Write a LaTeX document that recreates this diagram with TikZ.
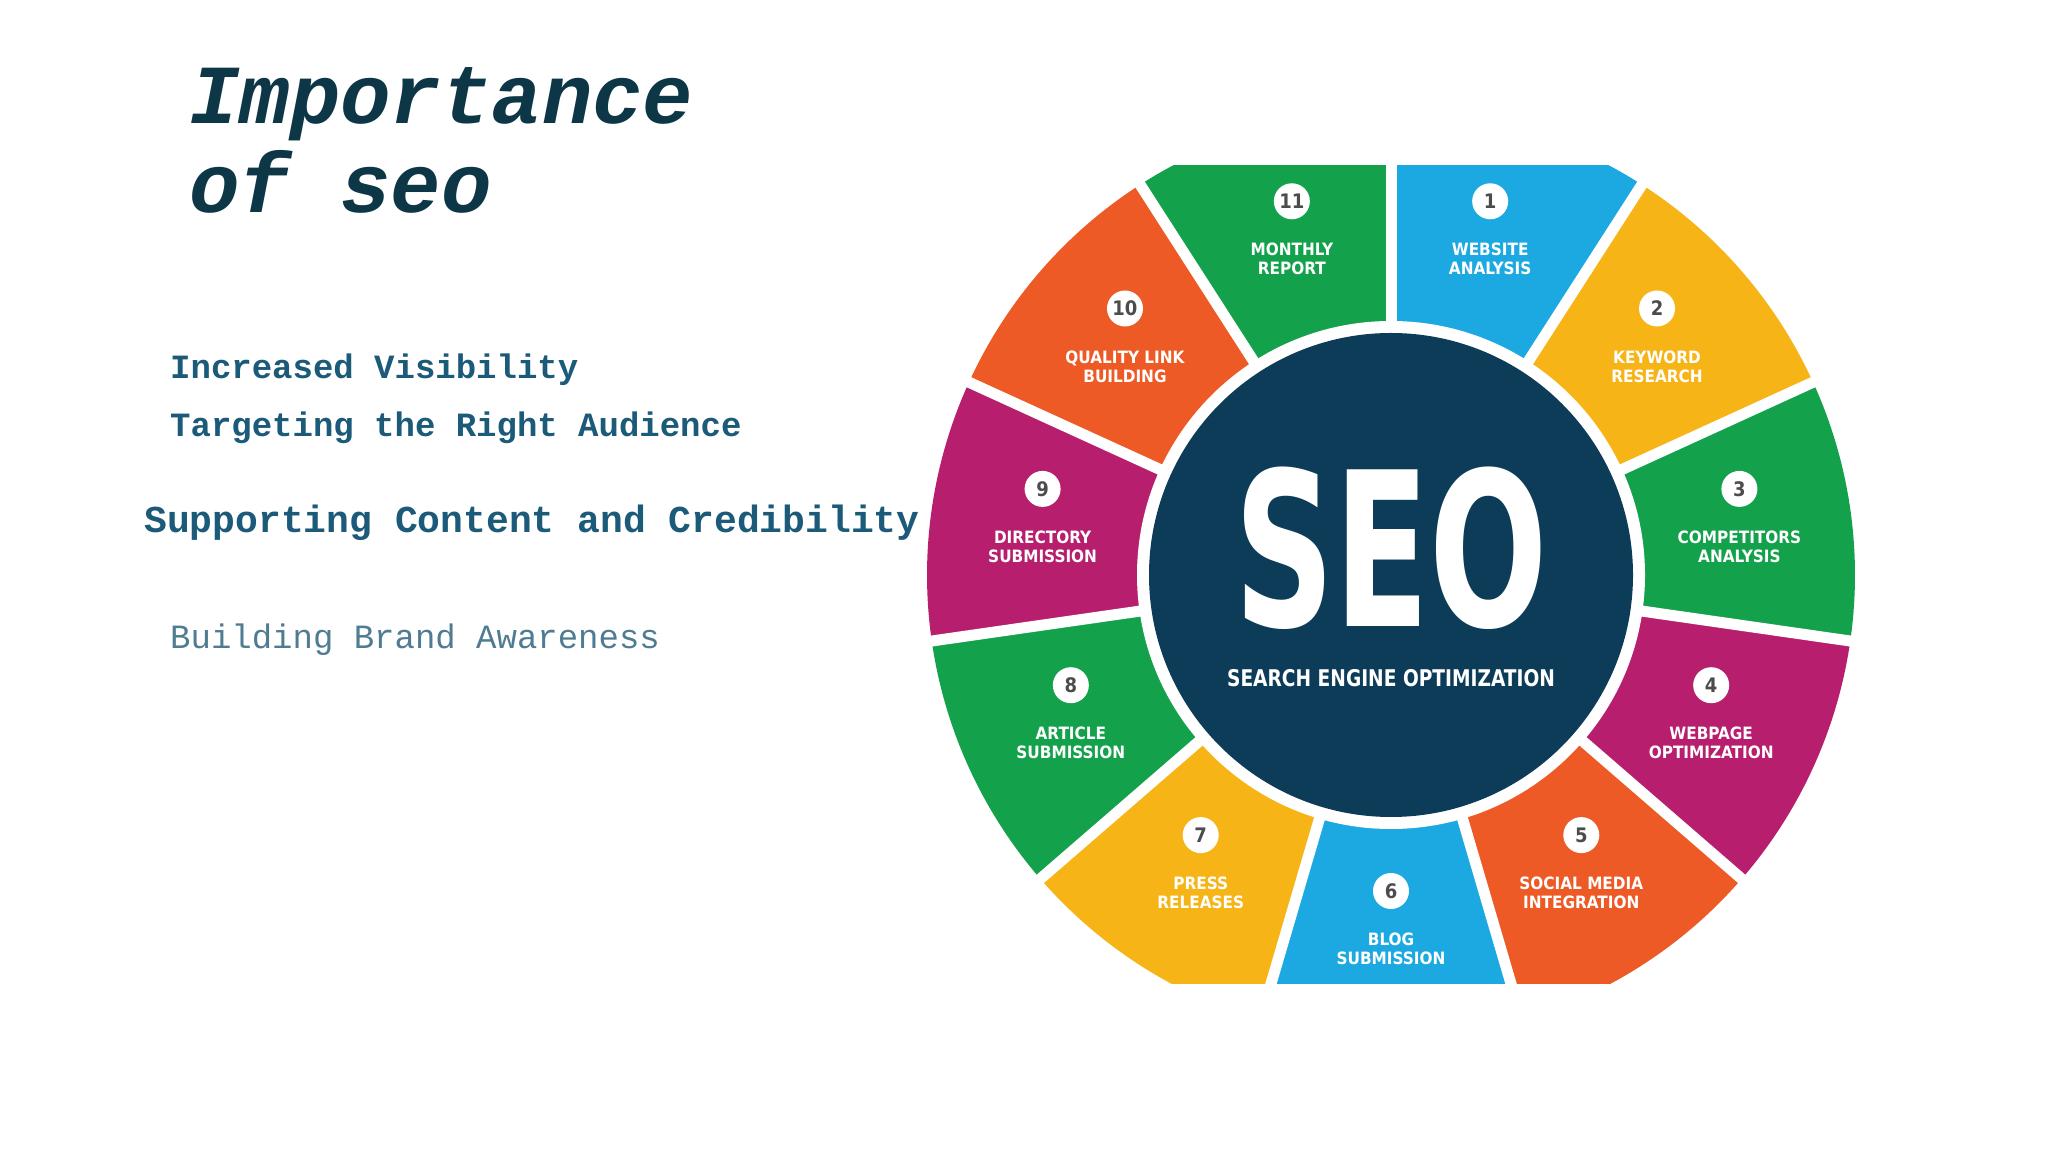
\documentclass[tikz,border=0pt]{standalone}
\usepackage{fontspec}
\usetikzlibrary{calc}
\setmonofont{Liberation Mono}
\newfontfamily\condf{DejaVu Sans Condensed}
\definecolor{navy}{HTML}{0C3C58}
\definecolor{titlec}{HTML}{0D3746}
\definecolor{bulc}{HTML}{1B5A78}
\definecolor{bldc}{HTML}{4F7C92}
\definecolor{sblue}{HTML}{1CA9E1}
\definecolor{syellow}{HTML}{F6B417}
\definecolor{sgreen}{HTML}{13A24B}
\definecolor{smag}{HTML}{B71F6E}
\definecolor{sorange}{HTML}{EE5A25}
\tikzset{
  txt/.style={anchor=base west,inner sep=0pt},
  seglab/.style={text=white,font=\condf\bfseries\fontsize{17}{19}\selectfont,align=center,inner sep=0pt},
  numc/.style={circle,fill=white,text=black!70,minimum size=36pt,inner sep=0pt,font=\condf\bfseries\fontsize{20}{20}\selectfont}
}
\begin{document}
\begin{tikzpicture}[x=1pt,y=1pt]
\useasboundingbox (0,0) rectangle (2048,1152);
\fill[white] (0,0) rectangle (2048,1152);
% title
\node[txt,text=titlec,font=\ttfamily\bfseries\itshape\fontsize{84}{84}\selectfont] (t1) at (189,1028) {Importance};
\node[txt,text=titlec,font=\ttfamily\bfseries\itshape\fontsize{84}{84}\selectfont] (t2) at (189,939) {of seo};
\node[txt,text=bulc,font=\ttfamily\bfseries\fontsize{34}{34}\selectfont] (b1) at (170,773) {Increased Visibility};
\node[txt,text=bulc,font=\ttfamily\bfseries\fontsize{34}{34}\selectfont] (b2) at (170,715) {Targeting the Right Audience};
\node[txt,text=bulc,font=\ttfamily\bfseries\fontsize{38}{38}\selectfont] (b3) at (144,619) {Supporting Content and Credibility};
\node[txt,text=bldc,font=\ttfamily\fontsize{34}{34}\selectfont] (b4) at (170,503) {Building Brand Awareness};
% wheel
\coordinate (C) at (1391,577);
\begin{scope}
\clip (900,169) rectangle (1900,986);
\foreach \i/\col in {1/sblue,2/syellow,3/sgreen,4/smag,5/sorange,6/sblue,7/syellow,8/sgreen,9/smag,10/sorange,11/sgreen}{
  \pgfmathsetmacro{\a}{90-(\i-1)*360/11}
  \pgfmathsetmacro{\b}{90-\i*360/11}
  \fill[\col] (C) -- ++(\a:464) arc[start angle=\a,end angle=\b,radius=464] -- cycle;
}
\foreach \i in {0,...,10}{
  \pgfmathsetmacro{\a}{90-\i*360/11}
  \draw[white,line width=11pt] (C) -- ++(\a:480);
}
\end{scope}
\fill[white] (C) circle[radius=254];
\fill[navy] (C) circle[radius=242];
\node[text=white,font=\condf\bfseries\fontsize{215}{215}\selectfont,xscale=0.72,inner sep=0pt] (seo) at (1391,604) {SEO};
\node[text=white,font=\condf\bfseries\fontsize{23}{23}\selectfont,xscale=0.9,inner sep=0pt] (sub) at (1391,474) {SEARCH ENGINE OPTIMIZATION};
% labels
\foreach \i/\l in {1/{WEBSITE\\ANALYSIS},2/{KEYWORD\\RESEARCH},3/{COMPETITORS\\ANALYSIS},4/{WEBPAGE\\OPTIMIZATION},5/{SOCIAL MEDIA\\INTEGRATION},6/{BLOG\\SUBMISSION},7/{PRESS\\RELEASES},8/{ARTICLE\\SUBMISSION},9/{DIRECTORY\\SUBMISSION},10/{QUALITY LINK\\BUILDING},11/{MONTHLY\\REPORT}}{
  \pgfmathsetmacro{\m}{90-(\i-0.5)*360/11}
  \node[seglab] (lab\i) at ($(C)+(\m:352)+(0,-22)$) {\l};
  \node[numc] (num\i) at ($(C)+(\m:352)+(0,36)$) {\i};
}
\end{tikzpicture}
\end{document}
